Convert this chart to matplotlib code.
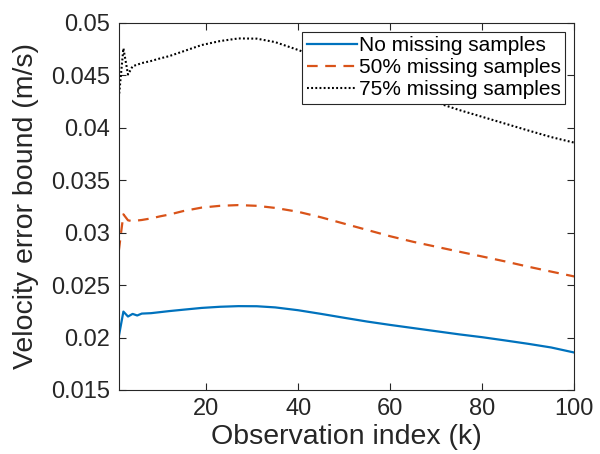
import matplotlib
matplotlib.use("Agg")
import matplotlib.pyplot as plt

# Observation indices at which the bounds are listed
k = [1, 2, 3, 4, 5, 6, 8, 10, 12, 15, 19, 23, 27, 31, 35, 40, 45, 50,
     55, 60, 65, 70, 75, 80, 85, 90, 95, 100]

# Velocity error bounds (m/s)
no_missing = [0.0201, 0.02247, 0.0220, 0.02225, 0.0221, 0.02228, 0.02232,
              0.02242, 0.02252, 0.02265, 0.02282, 0.02293, 0.02299, 0.02298,
              0.02287, 0.02260, 0.02225, 0.02188, 0.02152, 0.02120, 0.02090,
              0.02060, 0.02030, 0.02003, 0.01972, 0.01940, 0.01905, 0.01857]
missing_50 = [0.02825, 0.03174, 0.03117, 0.03108, 0.03115, 0.0312, 0.03135,
              0.03155, 0.03172, 0.03205, 0.03238, 0.03255, 0.03262, 0.03255,
              0.03235, 0.03198, 0.03145, 0.03085, 0.03025, 0.02965, 0.02912,
              0.02865, 0.02818, 0.02772, 0.02725, 0.02675, 0.02628, 0.02582]
missing_75 = [0.04285, 0.04756, 0.04506, 0.04585, 0.0460, 0.04615, 0.04635,
              0.0466, 0.04682, 0.04727, 0.04787, 0.04825, 0.0485, 0.04848,
              0.04815, 0.0474, 0.0466, 0.0457, 0.0448, 0.0439, 0.0431,
              0.0424, 0.04168, 0.04103, 0.04038, 0.03973, 0.0391, 0.03857]

series_labels = ["No missing samples", "50% missing samples", "75% missing samples"]
x_ticks = [20, 40, 60, 80, 100]
y_ticks = [0.015, 0.02, 0.025, 0.03, 0.035, 0.04, 0.045, 0.05]
y_tick_labels = ["0.015", "0.02", "0.025", "0.03", "0.035", "0.04", "0.045", "0.05"]

plt.rcParams["font.family"] = ["Liberation Sans", "DejaVu Sans"]
axis_color = "#262626"

fig = plt.figure(figsize=(6.0, 4.54), dpi=100)
ax = fig.add_axes([0.198, 0.141, 0.759, 0.809])

ax.plot(k, no_missing, color="#0072BD", lw=1.6, label=series_labels[0])
ax.plot(k, missing_50, color="#D95319", lw=1.6, dashes=(4.8, 3.4),
        label=series_labels[1])
ax.plot(k, missing_75, color="black", lw=1.5, dashes=(0.9, 1.1),
        label=series_labels[2])

ax.set_xlim(1, 100)
ax.set_ylim(0.015, 0.05)
ax.set_xticks(x_ticks)
ax.set_yticks(y_ticks)
ax.set_yticklabels(y_tick_labels)

ax.tick_params(direction="in", top=True, right=True, length=5, width=0.8,
               colors=axis_color, labelsize=17, pad=6)
for side in ax.spines.values():
    side.set_color(axis_color)
    side.set_linewidth(0.8)

ax.set_xlabel("Observation index (k)", fontsize=20.5, color=axis_color, labelpad=3)
ax.set_ylabel("Velocity error bound (m/s)", fontsize=20.5, color=axis_color, labelpad=9)

leg = ax.legend(loc="upper right", fontsize=15, frameon=True, fancybox=False,
                framealpha=1, edgecolor=axis_color, handlelength=2.4,
                handletextpad=0.1, labelspacing=0.15, borderpad=0.2,
                borderaxespad=0.45)
leg.get_frame().set_linewidth(0.8)

fig.savefig("out.png", dpi=100)
